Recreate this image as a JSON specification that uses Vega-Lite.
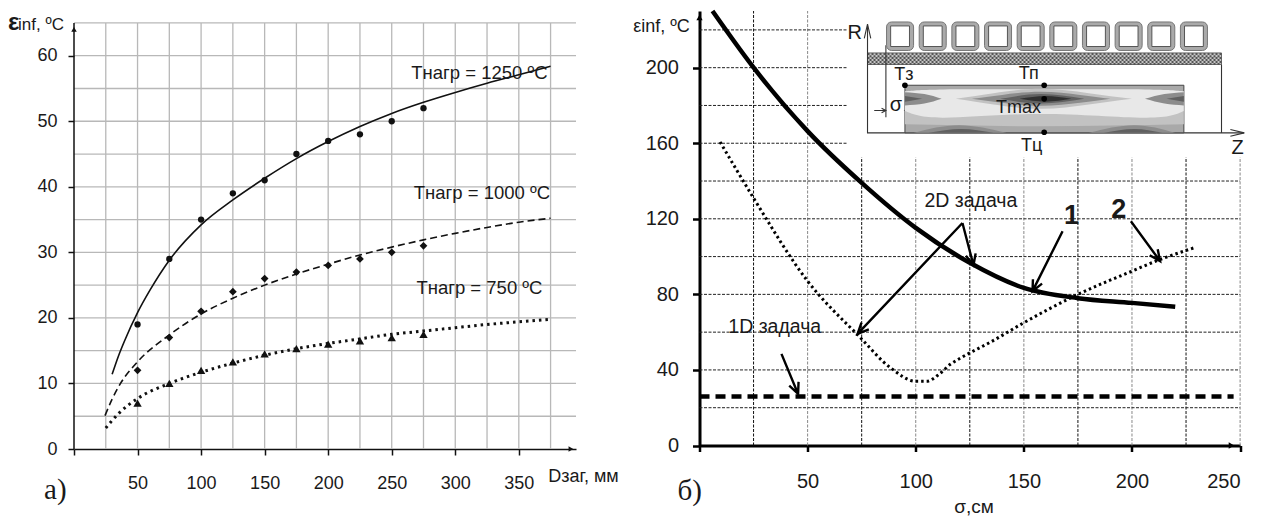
{"$schema":"https://vega.github.io/schema/vega-lite/v6.json","background":"white","padding":{"left":7,"top":2,"right":0,"bottom":0},"spacing":13.5,"config":{"view":{"stroke":null},"font":"Liberation Sans","axis":{"grid":false,"labelFont":"Liberation Sans","titleFont":"Liberation Sans","labelColor":"#1a1a1a","titleColor":"#1a1a1a","titleFontWeight":"normal"},"text":{"font":"Liberation Sans","color":"#1a1a1a"}},"hconcat":[
{"width":502,"height":438,"encoding":{"x":{"field":"x","type":"quantitative","scale":{"domain":[0,395],"nice":false,"zero":false},"axis":{"values":[0,50,100,150,200,250,300,350],"labelExpr":"datum.value==0?'':datum.label","labelFontSize":18,"labelPadding":19,"tickSize":6,"tickWidth":1.5,"tickColor":"#111","domainColor":"#111","domainWidth":1.5,"title":"Dзаг, мм","titleFontSize":18,"titleX":509,"titleY":27,"titleAlign":"center","titleBaseline":"middle"}},"y":{"field":"y","type":"quantitative","scale":{"domain":[0,66.82],"nice":false,"zero":false},"axis":{"values":[0,10,20,30,40,50,60],"labelFontSize":18,"labelPadding":11,"tickSize":6,"tickWidth":1.5,"tickColor":"#111","domain":false,"title":null}}},"layer":[
{"data":{"values":[{"x":25,"y":0,"y2":65},{"x":50,"y":0,"y2":65},{"x":75,"y":0,"y2":65},{"x":100,"y":0,"y2":65},{"x":125,"y":0,"y2":65},{"x":150,"y":0,"y2":65},{"x":175,"y":0,"y2":65},{"x":200,"y":0,"y2":65},{"x":225,"y":0,"y2":65},{"x":250,"y":0,"y2":65},{"x":275,"y":0,"y2":65},{"x":300,"y":0,"y2":65},{"x":325,"y":0,"y2":65},{"x":350,"y":0,"y2":65},{"x":375,"y":0,"y2":65}]},"mark":{"type":"rule","color":"#b8b8b8","strokeWidth":1.3},"encoding":{"y2":{"field":"y2"}}},
{"data":{"values":[{"x":0,"x2":395,"y":5},{"x":0,"x2":395,"y":10},{"x":0,"x2":395,"y":15},{"x":0,"x2":395,"y":20},{"x":0,"x2":395,"y":25},{"x":0,"x2":395,"y":30},{"x":0,"x2":395,"y":35},{"x":0,"x2":395,"y":40},{"x":0,"x2":395,"y":45},{"x":0,"x2":395,"y":50},{"x":0,"x2":395,"y":55},{"x":0,"x2":395,"y":60},{"x":0,"x2":395,"y":65}]},"mark":{"type":"rule","color":"#b8b8b8","strokeWidth":1.3},"encoding":{"x2":{"field":"x2"}}},
{"data":{"values":[{"x":0,"y":0,"y2":65}]},"mark":{"type":"rule","color":"#111","strokeWidth":1.5},"encoding":{"y2":{"field":"y2"}}},
{"data":{"values":[{"x":30,"y":11.4},{"x":35,"y":14.2},{"x":40,"y":16.6},{"x":50,"y":20.8},{"x":60,"y":24.3},{"x":75,"y":28.8},{"x":100,"y":34.2},{"x":125,"y":38},{"x":150,"y":41.3},{"x":175,"y":44.3},{"x":200,"y":46.9},{"x":225,"y":49.2},{"x":250,"y":51.2},{"x":275,"y":52.9},{"x":300,"y":54.4},{"x":325,"y":55.8},{"x":350,"y":57.1},{"x":375,"y":58.4}]},"mark":{"type":"line","color":"#111","strokeWidth":1.6,"interpolate":"monotone"}},
{"data":{"values":[{"x":24.4,"y":5.1},{"x":30,"y":7.6},{"x":36.6,"y":10},{"x":50,"y":13.3},{"x":75,"y":17.4},{"x":100,"y":20.6},{"x":125,"y":23},{"x":150,"y":25},{"x":175,"y":26.7},{"x":200,"y":28.2},{"x":225,"y":29.6},{"x":250,"y":30.8},{"x":275,"y":31.9},{"x":300,"y":32.9},{"x":325,"y":33.8},{"x":350,"y":34.6},{"x":375,"y":35.2}]},"mark":{"type":"line","color":"#111","strokeWidth":1.6,"strokeDash":[7,4],"interpolate":"monotone"}},
{"data":{"values":[{"x":25,"y":3.2},{"x":35,"y":5.4},{"x":50,"y":7.7},{"x":75,"y":10},{"x":100,"y":11.7},{"x":125,"y":13.1},{"x":150,"y":14.3},{"x":175,"y":15.3},{"x":200,"y":16.1},{"x":225,"y":16.8},{"x":250,"y":17.5},{"x":275,"y":18},{"x":300,"y":18.5},{"x":325,"y":19},{"x":350,"y":19.4},{"x":375,"y":19.8}]},"mark":{"type":"line","color":"#111","strokeWidth":3,"strokeDash":[2.5,4],"interpolate":"monotone"}},
{"data":{"values":[{"x":50,"y":19},{"x":75,"y":29},{"x":100,"y":35},{"x":125,"y":39},{"x":150,"y":41},{"x":175,"y":45},{"x":200,"y":47},{"x":225,"y":48},{"x":250,"y":50},{"x":275,"y":52}]},"mark":{"type":"point","shape":"circle","filled":true,"opacity":1,"color":"#111","size":40}},
{"data":{"values":[{"x":50,"y":12},{"x":75,"y":17},{"x":100,"y":21},{"x":125,"y":24},{"x":150,"y":26},{"x":175,"y":27},{"x":200,"y":28},{"x":225,"y":29},{"x":250,"y":30},{"x":275,"y":31}]},"mark":{"type":"point","shape":"diamond","filled":true,"opacity":1,"color":"#111","size":60}},
{"data":{"values":[{"x":50,"y":7},{"x":75,"y":10},{"x":100,"y":12},{"x":125,"y":13.3},{"x":150,"y":14.5},{"x":175,"y":15.3},{"x":200,"y":16},{"x":225,"y":16.5},{"x":250,"y":17},{"x":275,"y":17.5}]},"mark":{"type":"point","shape":"triangle-up","filled":true,"opacity":1,"color":"#111","size":70}},
{"data":{"values":[{"x":0,"y":64}]},"mark":{"type":"point","shape":"triangle-up","filled":true,"opacity":1,"color":"#111","size":30}},
{"data":{"values":[{"x":391,"y":0}]},"mark":{"type":"point","shape":"triangle-right","filled":true,"opacity":1,"color":"#111","size":30}},
{"data":{"values":[{"x":-52,"y":65,"t":"ε"}]},"mark":{"type":"text","align":"left","baseline":"middle","fontSize":24,"fontWeight":"bold"},"encoding":{"text":{"field":"t"}}},
{"data":{"values":[{"x":-44,"y":64.7,"t":"inf, ºC"}]},"mark":{"type":"text","align":"left","baseline":"middle","fontSize":17},"encoding":{"text":{"field":"t"}}},
{"data":{"values":[{"x":319,"y":57.3,"t":"Тнагр = 1250 ºC"},{"x":321,"y":39.1,"t":"Тнагр = 1000 ºC"},{"x":319,"y":24.5,"t":"Тнагр = 750 ºC"}]},"mark":{"type":"text","align":"center","baseline":"middle","fontSize":18.5},"encoding":{"text":{"field":"t"}}},
{"data":{"values":[{"x":-23.6,"y":-6.2,"t":"а)"}]},"mark":{"type":"text","align":"left","baseline":"middle","fontSize":29,"font":"Liberation Serif"},"encoding":{"text":{"field":"t"}}}
]},
{"width":540.6,"height":434.5,"encoding":{"x":{"field":"x","type":"quantitative","scale":{"domain":[0,250],"nice":false,"zero":false},"axis":{"values":[0,50,100,150,200,250],"labelExpr":"datum.value==0?'':datum.label","labelFontSize":20,"labelPadding":20,"tickSize":6,"tickWidth":2.5,"tickColor":"#000","domainColor":"#000","domainWidth":3,"title":"σ,см","titleFontSize":19,"titleX":274,"titleY":61,"titleAlign":"center","titleBaseline":"middle"}},"y":{"field":"y","type":"quantitative","scale":{"domain":[0,230],"nice":false,"zero":false},"axis":{"values":[0,40,80,120,160,200],"labelFontSize":20,"labelPadding":14,"tickSize":7,"tickWidth":2.5,"tickColor":"#000","domainColor":"#000","domainWidth":3,"title":null}}},"layer":[
{"data":{"values":[{"x":25,"y":0,"y2":230},{"x":75,"y":0,"y2":152.6},{"x":125,"y":0,"y2":152.6},{"x":175,"y":0,"y2":152.6},{"x":225,"y":0,"y2":152.6}]},"mark":{"type":"rule","color":"#111","strokeWidth":1,"strokeDash":[3,1.5]},"encoding":{"y2":{"field":"y2"}}},
{"data":{"values":[{"x":50,"y":0,"y2":230},{"x":100,"y":0,"y2":152.6},{"x":150,"y":0,"y2":152.6},{"x":200,"y":0,"y2":152.6},{"x":250,"y":0,"y2":152.6}]},"mark":{"type":"rule","color":"#888","strokeWidth":1,"strokeDash":[3,1.5]},"encoding":{"y2":{"field":"y2"}}},
{"data":{"values":[{"x":0,"x2":250,"y":20},{"x":0,"x2":250,"y":40},{"x":0,"x2":250,"y":60},{"x":0,"x2":250,"y":80},{"x":0,"x2":250,"y":100},{"x":0,"x2":250,"y":120},{"x":0,"x2":250,"y":140},{"x":0,"x2":68.5,"y":160},{"x":0,"x2":68.5,"y":180},{"x":0,"x2":68.5,"y":200},{"x":0,"x2":68.5,"y":220}]},"mark":{"type":"rule","color":"#222","strokeWidth":1,"strokeDash":[3,1.5]},"encoding":{"x2":{"field":"x2"}}},
{"data":{"values":[{"x":77.7,"x2":241.4,"y":201.7,"y2":207.8}]},"mark":{"type":"rect","fill":"#c4c4c4","stroke":"#666","strokeWidth":1},"encoding":{"x2":{"field":"x2"},"y2":{"field":"y2"}}},
{"data":{"values":[{"x":77.7,"x2":241.4,"y":207.2},{"x":77.7,"x2":241.4,"y":205.1},{"x":77.7,"x2":241.4,"y":203}]},"mark":{"type":"rule","color":"#555","strokeWidth":2,"strokeDash":[2,2]},"encoding":{"x2":{"field":"x2"}}},
{"data":{"values":[{"x":77.7,"x2":241.4,"y":206.1},{"x":77.7,"x2":241.4,"y":204},{"x":77.7,"x2":241.4,"y":201.9}]},"mark":{"type":"rule","color":"#555","strokeWidth":2,"strokeDash":[2,2],"strokeDashOffset":2},"encoding":{"x2":{"field":"x2"}}},
{"data":{"values":[{"id":"box","seq":1,"x":77.7,"y":222},{"id":"box","seq":2,"x":77.7,"y":165.5},{"id":"box","seq":3,"x":251.9,"y":165.5},{"id":"box2","seq":1,"x":241.4,"y":165.5},{"id":"box2","seq":2,"x":241.4,"y":201.7},{"id":"rh","seq":1,"x":76.2,"y":215.5},{"id":"rh","seq":2,"x":77.7,"y":223},{"id":"rh","seq":3,"x":79.2,"y":215.5},{"id":"zh","seq":1,"x":245.5,"y":167.3},{"id":"zh","seq":2,"x":251.9,"y":165.5},{"id":"zh","seq":3,"x":245.5,"y":163.7},{"id":"sv","seq":1,"x":86.2,"y":211.9},{"id":"sv","seq":2,"x":86.2,"y":173.8},{"id":"s1","seq":1,"x":80.8,"y":177.3},{"id":"s1","seq":2,"x":86.2,"y":177.3},{"id":"s1","seq":3,"x":84.2,"y":178.5},{"id":"s1","seq":4,"x":86.2,"y":177.3},{"id":"s1","seq":5,"x":84.2,"y":176.1},{"id":"s2","seq":1,"x":99,"y":177.3},{"id":"s2","seq":2,"x":95,"y":177.3},{"id":"s2","seq":3,"x":97,"y":178.5},{"id":"s2","seq":4,"x":95,"y":177.3},{"id":"s2","seq":5,"x":97,"y":176.1}]},"mark":{"type":"line","color":"#333","strokeWidth":1.1},"encoding":{"detail":{"field":"id"},"order":{"field":"seq"}}},
{"data":{"values":[{"x":86.5,"x2":99,"y":209.1,"y2":224.2},{"x":101.6,"x2":114.1,"y":209.1,"y2":224.2},{"x":116.7,"x2":129.2,"y":209.1,"y2":224.2},{"x":131.8,"x2":144.3,"y":209.1,"y2":224.2},{"x":146.9,"x2":159.4,"y":209.1,"y2":224.2},{"x":162,"x2":174.5,"y":209.1,"y2":224.2},{"x":177.1,"x2":189.6,"y":209.1,"y2":224.2},{"x":192.2,"x2":204.7,"y":209.1,"y2":224.2},{"x":207.3,"x2":219.8,"y":209.1,"y2":224.2},{"x":222.4,"x2":234.9,"y":209.1,"y2":224.2}]},"mark":{"type":"rect","fill":"#aaaaaa","stroke":"#777","strokeWidth":1,"cornerRadius":5},"encoding":{"x2":{"field":"x2"},"y2":{"field":"y2"}}},
{"data":{"values":[{"x":88.4,"x2":97.1,"y":211.2,"y2":222.1},{"x":103.5,"x2":112.2,"y":211.2,"y2":222.1},{"x":118.6,"x2":127.3,"y":211.2,"y2":222.1},{"x":133.7,"x2":142.4,"y":211.2,"y2":222.1},{"x":148.8,"x2":157.5,"y":211.2,"y2":222.1},{"x":163.9,"x2":172.6,"y":211.2,"y2":222.1},{"x":179,"x2":187.7,"y":211.2,"y2":222.1},{"x":194.1,"x2":202.8,"y":211.2,"y2":222.1},{"x":209.2,"x2":217.9,"y":211.2,"y2":222.1},{"x":224.3,"x2":233,"y":211.2,"y2":222.1}]},"mark":{"type":"rect","fill":"#fff","stroke":"#555","strokeWidth":1},"encoding":{"x2":{"field":"x2"},"y2":{"field":"y2"}}},
{"data":{"values":[{"x":95,"x2":224,"y":165.5,"y2":190.7}]},"mark":{"type":"rect","fill":"#a9a9a9","stroke":"#444","strokeWidth":1},"encoding":{"x2":{"field":"x2"},"y2":{"field":"y2"}}},
{"data":{"values":[
{"g":"01","s":"a","x":95,"y":170,"y2":177},{"g":"01","s":"a","x":158,"y":169,"y2":176},{"g":"01","s":"a","x":224,"y":170,"y2":177},
{"g":"02","s":"l","x":95,"y":177,"y2":187.5},{"g":"02","s":"l","x":113,"y":173.5,"y2":188.5},{"g":"02","s":"l","x":158,"y":175.5,"y2":188.5},{"g":"02","s":"l","x":206,"y":173.5,"y2":188.5},{"g":"02","s":"l","x":224,"y":177,"y2":187.5},
{"g":"03","s":"a","x":118.5,"y":183.5,"y2":183.5},{"g":"03","s":"a","x":136,"y":180.5,"y2":186.5},{"g":"03","s":"a","x":158,"y":178.2,"y2":188.8},{"g":"03","s":"a","x":180,"y":180.5,"y2":186.5},{"g":"03","s":"a","x":200,"y":183.5,"y2":183.5},
{"g":"04","s":"b","x":126,"y":183.5,"y2":183.5},{"g":"04","s":"b","x":140,"y":181.4,"y2":185.6},{"g":"04","s":"b","x":158,"y":179.8,"y2":187.2},{"g":"04","s":"b","x":176,"y":181.4,"y2":185.6},{"g":"04","s":"b","x":190,"y":183.5,"y2":183.5},
{"g":"05","s":"c","x":139,"y":183.5,"y2":183.5},{"g":"05","s":"c","x":158,"y":181,"y2":186},{"g":"05","s":"c","x":178,"y":183.5,"y2":183.5},
{"g":"06","s":"d","x":148,"y":183.5,"y2":183.5},{"g":"06","s":"d","x":160,"y":182,"y2":185},{"g":"06","s":"d","x":172,"y":183.5,"y2":183.5},
{"g":"07","s":"b","x":95,"y":180,"y2":187},{"g":"07","s":"b","x":104,"y":181,"y2":186},{"g":"07","s":"b","x":112,"y":183.5,"y2":183.5},
{"g":"08","s":"c","x":95,"y":182,"y2":185},{"g":"08","s":"c","x":103,"y":183.5,"y2":183.5},
{"g":"09","s":"b","x":206,"y":183.5,"y2":183.5},{"g":"09","s":"b","x":215,"y":181,"y2":186},{"g":"09","s":"b","x":224,"y":180,"y2":187},
{"g":"10","s":"c","x":216,"y":183.5,"y2":183.5},{"g":"10","s":"c","x":224,"y":182,"y2":185},
{"g":"11","s":"b","x":99,"y":165.5,"y2":165.5},{"g":"11","s":"b","x":120,"y":165.5,"y2":169.5},{"g":"11","s":"b","x":142,"y":165.5,"y2":165.5},
{"g":"12","s":"c","x":106,"y":165.5,"y2":165.5},{"g":"12","s":"c","x":121,"y":165.5,"y2":167.5},{"g":"12","s":"c","x":136,"y":165.5,"y2":165.5},
{"g":"13","s":"b","x":180,"y":165.5,"y2":165.5},{"g":"13","s":"b","x":201,"y":165.5,"y2":169.5},{"g":"13","s":"b","x":220,"y":165.5,"y2":165.5},
{"g":"14","s":"c","x":187,"y":165.5,"y2":165.5},{"g":"14","s":"c","x":201,"y":165.5,"y2":167.5},{"g":"14","s":"c","x":214,"y":165.5,"y2":165.5}
]},"mark":{"type":"area","interpolate":"natural","opacity":1},"encoding":{"y2":{"field":"y2"},"detail":{"field":"g"},"color":{"field":"s","type":"nominal","legend":null,"scale":{"domain":["l","a","b","c","d"],"range":["#e8e8e8","#c2c2c2","#8c8c8c","#606060","#303030"]}}}},
{"data":{"values":[{"x":95,"y":190.7},{"x":159.4,"y":190.7},{"x":159.4,"y":183.5},{"x":159.4,"y":165.8}]},"mark":{"type":"point","shape":"circle","filled":true,"opacity":1,"color":"#000","size":32}},
{"data":{"values":[{"x":94.5,"y":196,"t":"Тз"},{"x":152.3,"y":196.5,"t":"Тп"},{"x":147.5,"y":178.4,"t":"Tmax"},{"x":153.6,"y":158.8,"t":"Тц"}]},"mark":{"type":"text","align":"center","baseline":"middle","fontSize":18},"encoding":{"text":{"field":"t"}}},
{"data":{"values":[{"x":90.8,"y":180.5,"t":"σ"},{"x":71.8,"y":218.4,"t":"R"},{"x":248.8,"y":157.5,"t":"Z"}]},"mark":{"type":"text","align":"center","baseline":"middle","fontSize":20},"encoding":{"text":{"field":"t"}}},
{"data":{"values":[{"x":0,"y":26},{"x":247,"y":26}]},"mark":{"type":"line","color":"#000","strokeWidth":4.5,"strokeDash":[10,6]}},
{"data":{"values":[{"x":9.5,"y":160.7},{"x":25,"y":131},{"x":50,"y":87},{"x":73.7,"y":57.9},{"x":88.5,"y":41},{"x":100,"y":34},{"x":105,"y":34},{"x":110.8,"y":37.7},{"x":116,"y":43},{"x":120.9,"y":46.4},{"x":135,"y":55},{"x":150,"y":65},{"x":175,"y":80},{"x":200,"y":92.3},{"x":212,"y":98},{"x":228.6,"y":104.6}]},"mark":{"type":"line","color":"#000","strokeWidth":3,"strokeDash":[2.5,3],"interpolate":"monotone"}},
{"data":{"values":[{"x":6,"y":230},{"x":24.5,"y":200.8},{"x":50,"y":166.4},{"x":75,"y":139},{"x":100,"y":115.2},{"x":125,"y":96.7},{"x":150,"y":83.4},{"x":175,"y":78},{"x":200,"y":75.5},{"x":220,"y":73.4}]},"mark":{"type":"line","color":"#000","strokeWidth":4.5,"interpolate":"monotone"}},
{"data":{"values":[{"id":"a1","seq":1,"x":121.6,"y":117.8},{"id":"a1","seq":2,"x":73.1,"y":59.1},{"id":"a1","seq":3,"x":78.3,"y":61.5},{"id":"a1","seq":4,"x":73.1,"y":59.1},{"id":"a1","seq":5,"x":74.9,"y":65.1},
{"id":"a2","seq":1,"x":121.6,"y":117.8},{"id":"a2","seq":2,"x":126.7,"y":95.4},{"id":"a2","seq":3,"x":127.7,"y":101.7},{"id":"a2","seq":4,"x":126.7,"y":95.4},{"id":"a2","seq":5,"x":123.2,"y":100.4},
{"id":"b","seq":1,"x":167.9,"y":113.4},{"id":"b","seq":2,"x":154,"y":81.7},{"id":"b","seq":3,"x":158.4,"y":85.7},{"id":"b","seq":4,"x":154,"y":81.7},{"id":"b","seq":5,"x":154.2,"y":88},
{"id":"c","seq":1,"x":199.5,"y":118.7},{"id":"c","seq":2,"x":213,"y":97.6},{"id":"c","seq":3,"x":211.9,"y":103.9},{"id":"c","seq":4,"x":213,"y":97.6},{"id":"c","seq":5,"x":208.2,"y":100.7},
{"id":"d","seq":1,"x":37.9,"y":48.5},{"id":"d","seq":2,"x":45.6,"y":27.3},{"id":"d","seq":3,"x":45.8,"y":33.7},{"id":"d","seq":4,"x":45.6,"y":27.3},{"id":"d","seq":5,"x":41.5,"y":31.7}]},"mark":{"type":"line","color":"#000","strokeWidth":2.4},"encoding":{"detail":{"field":"id"},"order":{"field":"seq"}}},
{"data":{"values":[{"x":0,"y":226.5}]},"mark":{"type":"point","shape":"triangle-up","filled":true,"opacity":1,"color":"#000","size":40}},
{"data":{"values":[{"x":246,"y":0}]},"mark":{"type":"point","shape":"triangle-right","filled":true,"opacity":1,"color":"#000","size":40}},
{"data":{"values":[{"x":125.5,"y":129.3,"t":"2D задача"},{"x":34.8,"y":62.8,"t":"1D задача"}]},"mark":{"type":"text","align":"center","baseline":"middle","fontSize":19.5},"encoding":{"text":{"field":"t"}}},
{"data":{"values":[{"x":172,"y":121.3,"t":"1"},{"x":193.9,"y":124.9,"t":"2"}]},"mark":{"type":"text","align":"center","baseline":"middle","fontSize":27,"fontWeight":"bold"},"encoding":{"text":{"field":"t"}}},
{"data":{"values":[{"x":-4.5,"y":221.4,"t":"εinf, ºC"}]},"mark":{"type":"text","align":"right","baseline":"middle","fontSize":18},"encoding":{"text":{"field":"t"}}},
{"data":{"values":[{"x":-10.2,"y":-24.2,"t":"б)"}]},"mark":{"type":"text","align":"left","baseline":"middle","fontSize":29,"font":"Liberation Serif"},"encoding":{"text":{"field":"t"}}}
]}
]}
